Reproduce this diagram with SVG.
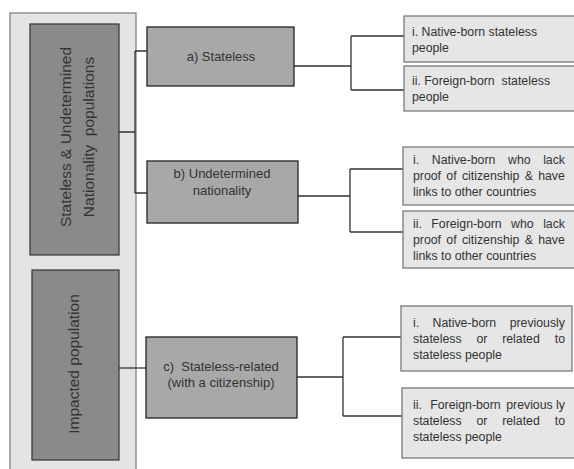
<svg xmlns="http://www.w3.org/2000/svg" width="574" height="469" viewBox="0 0 574 469">
<style>
text{font-family:"Liberation Sans",Arial,sans-serif;fill:#333}
.panel{fill:#e4e4e4;stroke:#7a7a7a;stroke-width:1.2}
.dark{fill:#8a8a8a;stroke:#333;stroke-width:1.2}
.mid{fill:#a8a8a8;stroke:#222;stroke-width:1.3}
.leaf{fill:#e6e6e6;stroke:#7a7a7a;stroke-width:1.3}
.big{font-size:15.5px}
.m{font-size:13px;text-anchor:middle}
.s{font-size:12.3px}
.e{text-anchor:end}
#connectors path{fill:none;stroke:#333;stroke-width:1.3}
</style>
<rect class="panel" x="10" y="13" width="126" height="470"/>
<g id="connectors">
<path d="M119,132H135M135,51V193M135,51H147M135,193H147"/>
<path d="M119,368H146"/>
<path d="M294,66H351M351,36V90M351,36H404M351,90H404"/>
<path d="M298,196H350M350,169V232M350,169H403M350,232H403"/>
<path d="M297,377H343M343,337V416M343,337H401M343,416H402"/>
</g>
<g id="n_stateless_undet">
<rect class="dark" x="30" y="24" width="89" height="231"/>
<text class="big" transform="translate(71,137) rotate(-90)" text-anchor="middle">Stateless &amp; Undetermined</text>
<text class="big" transform="translate(94,137) rotate(-90)" text-anchor="middle" xml:space="preserve">Nationality  populations</text>
</g>
<g id="n_impacted">
<rect class="dark" x="32" y="270" width="87" height="190"/>
<text class="big" transform="translate(79,364) rotate(-90)" text-anchor="middle">Impacted population</text>
</g>
<g id="n_a">
<rect class="mid" x="147" y="27" width="147" height="59"/>
<text class="m" x="221" y="61">a) Stateless</text>
</g>
<g id="n_b">
<rect class="mid" x="147" y="161" width="151" height="62"/>
<text class="m" x="222" y="178">b) Undetermined</text>
<text class="m" x="222" y="195">nationality</text>
</g>
<g id="n_c">
<rect class="mid" x="146" y="337" width="151" height="81"/>
<text class="m" x="221" y="371" xml:space="preserve">c)  Stateless-related</text>
<text class="m" x="221" y="387">(with a citizenship)</text>
</g>
<g id="n_a1">
<rect class="leaf" x="404" y="16" width="172" height="46"/>
<text class="s" x="412" y="36">i. Native-born stateless</text>
<text class="s" x="412" y="52">people</text>
</g>
<g id="n_a2">
<rect class="leaf" x="404" y="66" width="172" height="45"/>
<text class="s" x="412" y="85" xml:space="preserve">ii. Foreign-born  stateless</text>
<text class="s" x="412" y="101">people</text>
</g>
<g id="n_b1">
<rect class="leaf" x="403" y="147" width="173" height="58"/>
<text class="s" y="164"><tspan x="413">i.</tspan><tspan x="431.8">Native-born</tspan><tspan x="508">who</tspan><tspan class="e" x="565">lack</tspan></text>
<text class="s" x="413" y="180" word-spacing="1.9">proof of citizenship &amp; have</text>
<text class="s" x="413" y="196">links to other countries</text>
</g>
<g id="n_b2">
<rect class="leaf" x="403" y="211" width="173" height="57"/>
<text class="s" y="228"><tspan x="413">ii.</tspan><tspan x="431.3">Foreign-born</tspan><tspan x="511">who</tspan><tspan class="e" x="565">lack</tspan></text>
<text class="s" x="413" y="244" word-spacing="1.9">proof of citizenship &amp; have</text>
<text class="s" x="413" y="260">links to other countries</text>
</g>
<g id="n_c1">
<rect class="leaf" x="401" y="306" width="171" height="65"/>
<text class="s" y="327"><tspan x="413">i.</tspan><tspan x="432.6">Native-born</tspan><tspan class="e" x="565">previously</tspan></text>
<text class="s" y="343"><tspan x="413">stateless</tspan><tspan x="476.4">or</tspan><tspan x="502.2">related</tspan><tspan class="e" x="565">to</tspan></text>
<text class="s" x="413" y="359">stateless people</text>
</g>
<g id="n_c2">
<rect class="leaf" x="402" y="388" width="174" height="70"/>
<text class="s" y="409"><tspan x="413">ii.</tspan><tspan x="430.2">Foreign-born</tspan><tspan class="e" x="565">previous ly</tspan></text>
<text class="s" y="425"><tspan x="413">stateless</tspan><tspan x="476.4">or</tspan><tspan x="502.2">related</tspan><tspan class="e" x="565">to</tspan></text>
<text class="s" x="413" y="441">stateless people</text>
</g>
</svg>
